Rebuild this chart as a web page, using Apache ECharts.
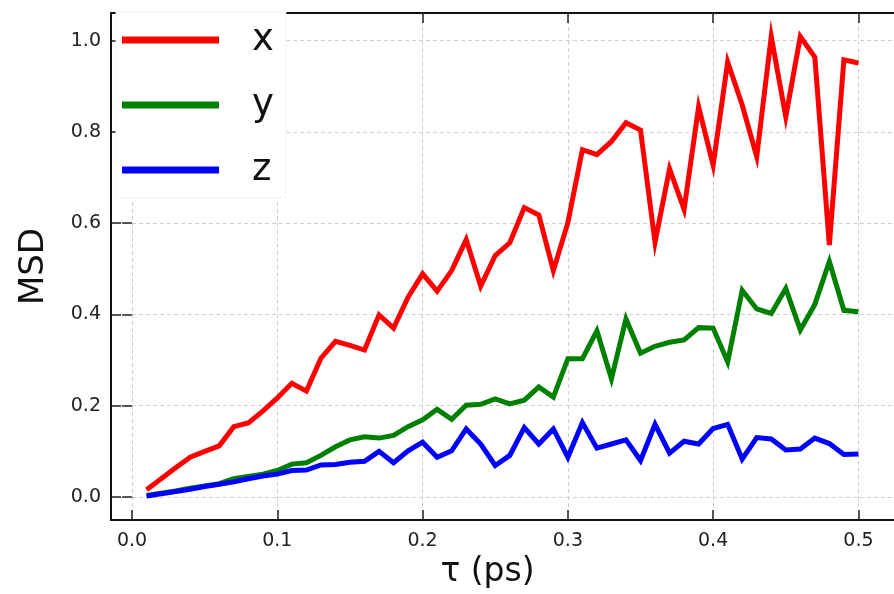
<!DOCTYPE html>
<html>
<head>
<meta charset="utf-8">
<script src="https://cdn.jsdelivr.net/npm/echarts@6/dist/echarts.min.js"></script>
<style>
  html, body { margin: 0; padding: 0; background: #fff; }
  #main { width: 894px; height: 594px; }
</style>
</head>
<body>
<div id="main"></div>
<script>
// lag times (ps)
const tau = [0.01, 0.02, 0.03, 0.04, 0.05, 0.06, 0.07, 0.08, 0.09, 0.10,
             0.11, 0.12, 0.13, 0.14, 0.15, 0.16, 0.17, 0.18, 0.19, 0.20,
             0.21, 0.22, 0.23, 0.24, 0.25, 0.26, 0.27, 0.28, 0.29, 0.30,
             0.31, 0.32, 0.33, 0.34, 0.35, 0.36, 0.37, 0.38, 0.39, 0.40,
             0.41, 0.42, 0.43, 0.44, 0.45, 0.46, 0.47, 0.48, 0.49, 0.50];

const msdX = [0.016, 0.040, 0.064, 0.087, 0.100, 0.112, 0.154, 0.162, 0.188, 0.217,
              0.249, 0.232, 0.304, 0.341, 0.332, 0.322, 0.399, 0.370, 0.438, 0.489,
              0.451, 0.496, 0.564, 0.462, 0.529, 0.557, 0.634, 0.618, 0.496, 0.601,
              0.761, 0.750, 0.779, 0.820, 0.804, 0.558, 0.719, 0.630, 0.855, 0.727,
              0.953, 0.859, 0.746, 1.009, 0.833, 1.009, 0.964, 0.552, 0.958, 0.951];

const msdY = [0.003, 0.008, 0.013, 0.019, 0.024, 0.029, 0.040, 0.045, 0.050, 0.058,
              0.072, 0.075, 0.091, 0.110, 0.125, 0.132, 0.129, 0.135, 0.154, 0.169,
              0.192, 0.170, 0.201, 0.203, 0.215, 0.204, 0.212, 0.241, 0.219, 0.303,
              0.303, 0.364, 0.259, 0.390, 0.315, 0.330, 0.339, 0.344, 0.371, 0.370,
              0.296, 0.453, 0.412, 0.402, 0.457, 0.366, 0.422, 0.516, 0.409, 0.406];

const msdZ = [0.002, 0.007, 0.012, 0.017, 0.023, 0.028, 0.033, 0.040, 0.046, 0.050,
              0.058, 0.059, 0.070, 0.071, 0.076, 0.078, 0.100, 0.075, 0.101, 0.120,
              0.087, 0.101, 0.149, 0.116, 0.069, 0.091, 0.152, 0.116, 0.149, 0.087,
              0.163, 0.107, 0.116, 0.125, 0.080, 0.159, 0.096, 0.122, 0.116, 0.150,
              0.159, 0.083, 0.130, 0.127, 0.103, 0.105, 0.129, 0.117, 0.093, 0.094];

const seriesNames = ['x', 'y', 'z'];
const seriesColors = ['#ff0000', '#008000', '#0000ff'];
const xTicks = [0.0, 0.1, 0.2, 0.3, 0.4, 0.5];
const yTicks = [0.0, 0.2, 0.4, 0.6, 0.8, 1.0];

const FONT = 'DejaVu Sans';
const xRange = [-0.0145, 0.5245];
const yRange = [-0.0505, 1.0605];

function pairs(ys) {
  return tau.map((t, i) => [t, ys[i]]);
}

function valueAxis(range, ticks, opts) {
  return Object.assign({
    type: 'value',
    min: range[0],
    max: range[1],
    axisLine: { show: true, onZero: false, lineStyle: { color: '#111', width: 2 } },
    axisTick: { show: true, inside: true, length: 10, customValues: ticks,
                lineStyle: { color: '#222', width: 1.5 } },
    axisLabel: { show: false },
    splitLine: { show: false }
  }, opts);
}

const myChart = echarts.init(document.getElementById('main'));

const allData = [msdX, msdY, msdZ];

myChart.setOption({
  animation: false,
  backgroundColor: '#fff',
  textStyle: { fontFamily: FONT },
  grid: { left: 111, top: 13, width: 785, height: 511, containLabel: false },
  legend: {
    orient: 'vertical',
    left: 116,
    top: 12,
    padding: [8, 12, 8, 6],
    itemWidth: 97,
    itemHeight: 7,
    itemGap: 25,
    icon: 'rect',
    backgroundColor: '#fff',
    borderColor: '#f2f2f2',
    borderWidth: 1,
    textStyle: { fontFamily: FONT, fontSize: 37, color: '#111', lineHeight: 40,
                 padding: [0, 0, 0, 28] },
    data: seriesNames
  },
  xAxis: [
    valueAxis(xRange, xTicks, {
      position: 'bottom',
      name: 'τ (ps)',
      nameLocation: 'middle',
      nameGap: 36,
      nameTextStyle: { fontFamily: FONT, fontSize: 33, color: '#111', padding: [0, 30, 0, 0] },
      axisLabel: { show: true, customValues: xTicks, margin: 12,
                   fontFamily: FONT, fontSize: 19, color: '#222',
                   formatter: v => v.toFixed(1) },
      splitLine: { show: true, lineStyle: { color: '#cfcfcf', type: [4, 3], width: 1 } }
    }),
    valueAxis(xRange, xTicks, { position: 'top' })
  ],
  yAxis: [
    valueAxis(yRange, yTicks, {
      position: 'left',
      name: 'MSD',
      nameLocation: 'middle',
      nameGap: 60,
      nameTextStyle: { fontFamily: FONT, fontSize: 34, color: '#111' },
      axisLabel: { show: true, customValues: yTicks, margin: 10,
                   fontFamily: FONT, fontSize: 19, color: '#222',
                   formatter: v => v.toFixed(1) },
      splitLine: { show: true, lineStyle: { color: '#cfcfcf', type: [4, 3], width: 1 } }
    }),
    valueAxis(yRange, yTicks, { position: 'right', axisLine: { show: false } })
  ],
  series: seriesNames.map((name, i) => ({
    name: name,
    type: 'line',
    xAxisIndex: 0,
    yAxisIndex: 0,
    data: pairs(allData[i]),
    showSymbol: false,
    symbol: 'none',
    lineStyle: { color: seriesColors[i], width: 5, join: 'miter' },
    itemStyle: { color: seriesColors[i] }
  }))
});
</script>
</body>
</html>
